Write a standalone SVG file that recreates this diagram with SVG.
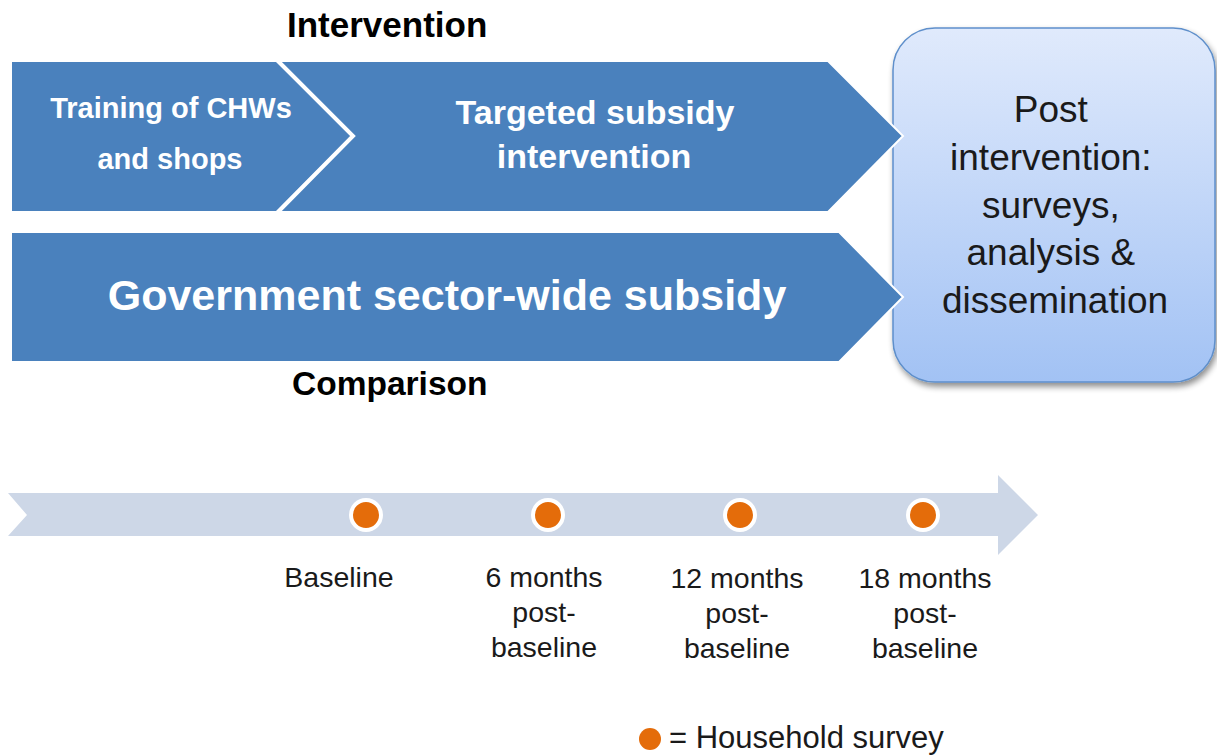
<svg xmlns="http://www.w3.org/2000/svg" width="1217" height="756" viewBox="0 0 1217 756">
  <defs>
    <linearGradient id="postFill" x1="0" y1="0" x2="0" y2="1">
      <stop offset="0" stop-color="#e0eafc"/>
      <stop offset="1" stop-color="#a2c2f4"/>
    </linearGradient>
    <filter id="shadow" x="-10%" y="-10%" width="125%" height="125%">
      <feGaussianBlur in="SourceAlpha" stdDeviation="3"/>
      <feOffset dx="2" dy="4" result="b"/>
      <feComponentTransfer><feFuncA type="linear" slope="0.45"/></feComponentTransfer>
      <feMerge><feMergeNode/><feMergeNode in="SourceGraphic"/></feMerge>
    </filter>
  </defs>
  <style>
    .band { fill: #4a81bd; stroke: #ffffff; stroke-width: 2; stroke-linejoin: miter; }
    .wlabel { font-family: "Liberation Sans", Arial, sans-serif; font-weight: bold; fill: #ffffff; text-anchor: middle; }
    .head { font-family: "Liberation Sans", Arial, sans-serif; font-weight: bold; fill: #000000; }
    .dark { font-family: "Liberation Sans", Arial, sans-serif; fill: #1a1a1a; text-anchor: middle; }
    .dot { fill: #e46c0a; stroke: #ffffff; stroke-width: 4; }
  </style>

  <rect width="1217" height="756" fill="#ffffff"/>

  <!-- post-intervention box -->
  <g id="post">
    <rect x="893" y="28" width="322" height="354" rx="42" ry="42" fill="url(#postFill)" stroke="#5e8fcb" stroke-width="1.5" filter="url(#shadow)"/>
    <text class="dark" font-size="37" fill="#000">
      <tspan x="1056" y="122">Post</tspan>
      <tspan x="1056" y="170">intervention:</tspan>
      <tspan x="1056" y="218">surveys,</tspan>
      <tspan x="1056" y="265">analysis &amp;</tspan>
      <tspan x="1055" y="313">dissemination</tspan>
    </text>
  </g>

  <!-- intervention arm -->
  <g id="training">
    <polygon class="band" points="11,61 277,61 353,136 277,212 11,212"/>
    <text class="wlabel" font-size="29"><tspan x="171" y="118">Training of CHWs</tspan><tspan x="170" y="169">and shops</tspan></text>
  </g>
  <g id="targeted">
    <polygon class="band" points="277,61 828,61 903,136 828,212 277,212 353,136"/>
    <text class="wlabel" font-size="34"><tspan x="595" y="124">Targeted subsidy</tspan><tspan x="594" y="168">intervention</tspan></text>
  </g>
  <polyline points="277,60 353,136 277,213" fill="none" stroke="#ffffff" stroke-width="4"/>
  <text class="head" x="287" y="37" font-size="35">Intervention</text>

  <!-- comparison arm -->
  <g id="government">
    <polygon class="band" points="11,232 839,232 903,297 839,362 11,362"/>
    <text class="wlabel" font-size="43" x="447" y="310">Government sector-wide subsidy</text>
  </g>
  <text class="head" x="292" y="395" font-size="33.5">Comparison</text>

  <!-- timeline -->
  <g id="timeline">
    <polygon points="8,493 998,493 998,475 1038,515 998,555 998,536 8,536 27,515" fill="#cdd7e7"/>
    <circle class="dot" cx="366" cy="515" r="15"/>
    <circle class="dot" cx="548" cy="515" r="15"/>
    <circle class="dot" cx="740" cy="515" r="15"/>
    <circle class="dot" cx="923" cy="515" r="15"/>
  </g>
  <g id="labels">
    <text class="dark" font-size="28.5" x="339" y="587">Baseline</text>
    <text class="dark" font-size="28.5"><tspan x="544" y="587">6 months</tspan><tspan x="544" y="622">post-</tspan><tspan x="544" y="657">baseline</tspan></text>
    <text class="dark" font-size="28.5"><tspan x="737" y="588">12 months</tspan><tspan x="737" y="623">post-</tspan><tspan x="737" y="658">baseline</tspan></text>
    <text class="dark" font-size="28.5"><tspan x="925" y="588">18 months</tspan><tspan x="925" y="623">post-</tspan><tspan x="925" y="658">baseline</tspan></text>
  </g>

  <!-- legend -->
  <g id="legend">
    <circle cx="650" cy="739" r="11" fill="#e46c0a"/>
    <text x="669" y="748" font-family="'Liberation Sans', Arial, sans-serif" font-size="31" fill="#1a1a1a">= Household survey</text>
  </g>
</svg>
